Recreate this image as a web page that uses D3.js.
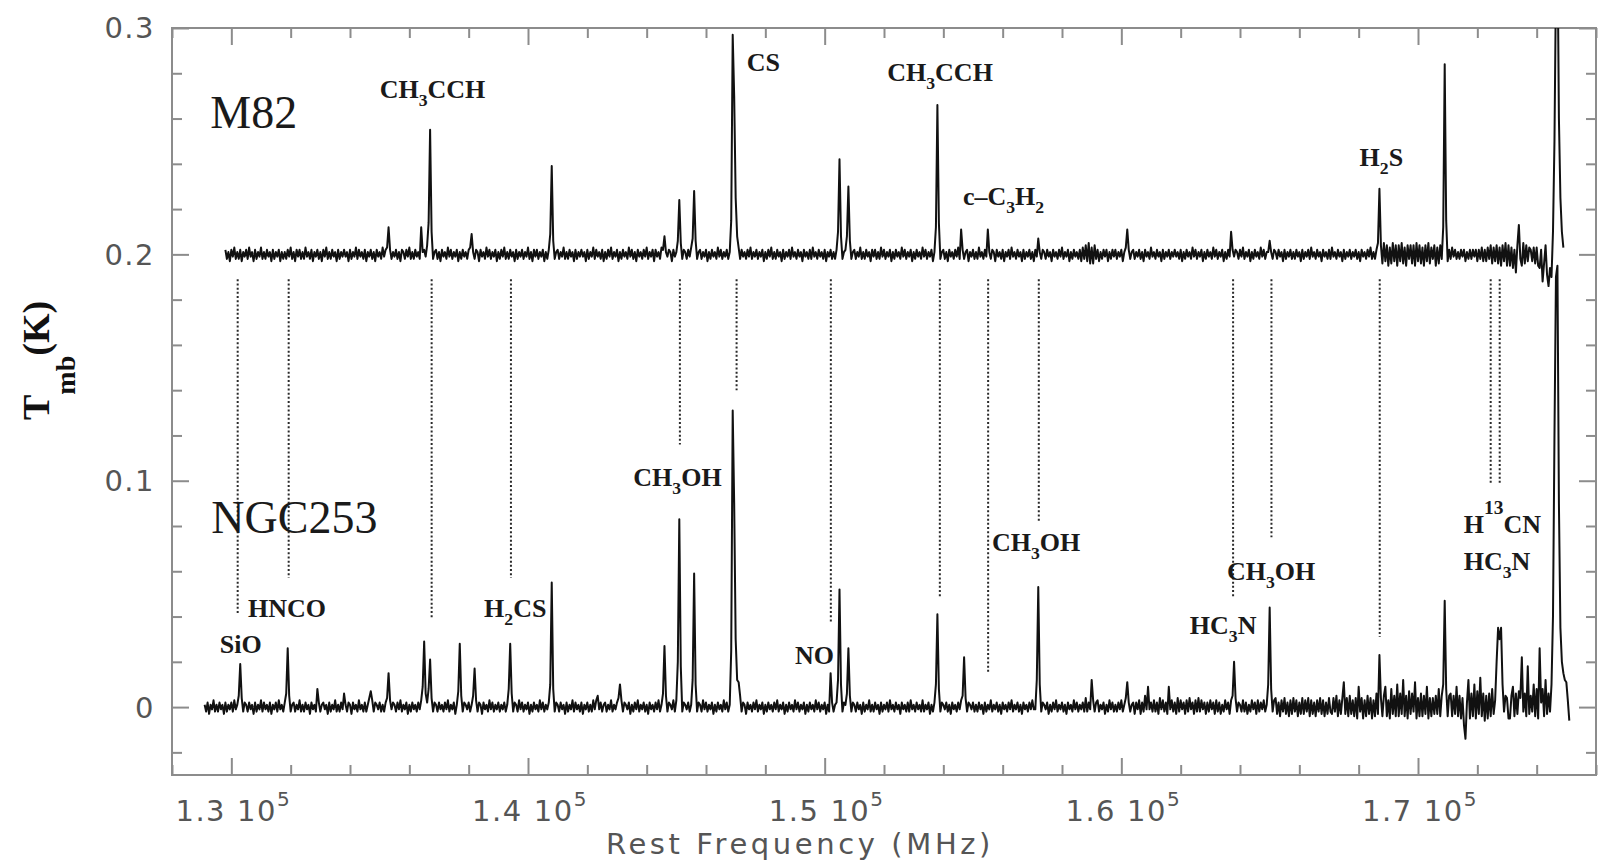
<!DOCTYPE html>
<html><head><meta charset="utf-8">
<script src="https://cdn.jsdelivr.net/npm/d3@7"></script>
<style>body{margin:0;background:#fff;overflow:hidden}</style>
</head><body>
<svg id="chart" width="1612" height="860"></svg>
<script>
// ================= DATA =================
// Spectra on a 50 MHz channel grid, values in mK
const channelWidth = 50;           // MHz
const m82Start = 129800;           // MHz, first channel of M82
const ngc253Start = 129100;        // MHz, first channel of NGC253
const m82Offset = 0.2;             // K, M82 spectrum is shifted up by 0.2 K

const m82mK = [
  2,-2,1,-3,2,-1,3,-2,1,-2, 2,-3,1,-1,2,-2,3,-1,1,-3, 2,-2,1,-1,3,-2,1,-2,2,-1, 1,-3,2,-2,1,-1,2,-3,1,-2,
  1,-2,2,-1,3,-2,1,-3,2,-1, 2,-2,1,-2,3,-1,1,-2,2,-3, 1,-1,2,-2,1,-3,2,-1,3,-2, 1,-2,2,-1,1,-3,2,-2,1,-1,
  2,-1,1,-3,2,-2,1,-1,3,-2, 2,-1,1,-2,2,-3,1,-1,2,-2, 1,-3,2,-1,1,-2,3,-1,2,3, 12,2,-2,1,-1,2,-2,1,-3,2,
  1,-2,2,-1,3,-2,1,-2,2,-1, 1,-2,12,1,2,-1,4,14,55,10, -2,1,2,-2,1,-3,2,-1,1,-2, 3,-1,2,-2,1,-1,2,-3,1,-2,
  2,-1,1,-2,2,3,9,1,-2,2, 1,-3,2,-1,1,-2,3,-1,2,-2, 1,-1,2,-3,1,-2,2,-1,3,-2, 1,-2,2,-1,1,-3,2,-2,1,-1,
  2,-2,1,-1,3,-2,1,-3,2,-1, 2,-2,1,-1,2,-3,1,-2,2,9, 39,6,-2,1,2,-2,1,-1,3,-2, 1,-2,2,-1,1,-3,2,-2,1,-1,
  2,-1,1,-3,2,-2,1,-1,3,-2, 2,-1,1,-2,2,-3,1,-2,2,-1, 3,-2,1,-1,2,-3,1,-2,2,-1, 1,-2,3,-1,2,-2,1,-3,2,-1,
  1,-2,2,-1,3,-2,1,-1,2,-3, 2,-1,1,-2,3,2,8,1,-1,2, 1,-3,2,-1,1,6,24,5,-2,2, 1,-2,2,-1,3,7,28,6,-2,1,
  2,-2,1,-1,2,-3,1,-2,2,-1, 1,-2,3,-1,2,-2,1,-1,2,-2, 1,15,97,70,25,8,3,-2,2,-1, 1,-2,2,-1,3,-2,1,-1,2,-2,
  1,-1,2,-3,1,-2,2,-1,3,-2, 1,-2,2,-1,1,-3,2,-2,1,-1, 2,-2,3,-1,1,-2,2,-1,1,-3, 2,-1,1,-2,2,-2,3,-1,1,-2,
  2,-1,1,-2,2,-3,1,-1,2,-2, 1,-2,2,10,42,8,-2,1,2,8, 30,6,-2,1,2,-2,1,-1,3,-2, 1,-2,2,-1,1,-3,2,-1,2,-2,
  1,-2,3,-1,2,-2,1,-1,2,-3, 1,-2,2,-1,1,-2,3,-1,2,-2, 1,-1,2,-3,1,-2,2,-1,1,-2, 3,-1,2,-2,1,-1,2,-3,1,12,
  66,14,-2,1,2,-2,1,-3,2,-1, 1,-2,2,-1,3,-2,11,2,-2,1, 2,-3,1,-1,2,-2,1,-2,3,-1, 1,-2,2,-1,11,1,-2,2,1,-3,
  2,-1,1,-2,2,-3,1,-1,2,-2, 3,-1,1,-2,2,-1,1,-3,2,-2, 1,-1,2,-2,1,-3,2,-1,7,1, -2,2,1,-2,2,-1,1,-3,2,-1,
  1,-2,2,-1,3,-2,1,-1,2,-3, 1,-2,2,-1,1,-2,2,-3,3,-2, 4,-3,5,-4,3,-4,4,-2,2,-3, 1,-2,2,-1,2,-3,1,-2,2,-1,
  2,-2,1,-1,2,-3,1,3,11,2, -2,1,2,-2,1,-1,2,-2,1,-3, 2,-1,1,-2,3,-1,1,-2,2,-1, 1,-3,2,-2,1,-1,2,-2,1,-1,
  2,-1,1,-2,2,-3,1,-2,2,-1, 1,-2,3,-1,2,-2,1,-1,2,-3, 1,-2,2,-1,1,-2,3,-1,2,-2, 1,-1,2,-3,1,-2,2,-1,10,2,
  -1,2,1,-2,2,-1,3,-2,1,-1, 2,-3,1,-2,2,-1,1,-2,3,-1, 2,-2,1,1,6,1,-2,2,1,-2, 2,-1,1,-3,2,-2,1,-1,2,-2,
  1,-2,2,-1,1,-3,2,-2,1,-1, 2,-2,3,-1,1,-2,2,-1,1,-3, 2,-1,1,-2,2,-2,3,-1,1,-2, 2,-1,1,-3,2,-2,1,-1,2,-2,
  1,-1,2,-2,1,-3,2,-1,1,-2, 2,-1,3,-2,1,-2,2,5,29,4, -4,5,-3,4,-5,3,-4,5,-3,4, -5,4,-3,5,-4,3,-5,4,-2,4,
  -4,4,-5,5,-3,4,-4,3,-5,4, -3,5,-4,3,-2,4,-5,3,-4,4, -2,12,84,15,-3,2,-2,3,-1,2, -2,1,-2,2,-1,2,-3,1,-2,2,
  -2,2,-1,2,-3,2,-2,3,-3,2, -3,3,-2,4,-4,3,-3,4,-4,3, -5,4,-3,5,-5,4,-5,3,-6,2, -8,4,13,-2,-5,5,-4,4,-3,3,
  2,-3,3,-4,3,-5,-6,2,-12,-4, 4,-9,-14,-6,-10,10,50,120,140,60, 25,10,3
];

const ngc253mK = [
  1,-2,2,-3,1,-1,3,-2,1,-2, 2,-1,1,-3,2,-2,1,-1,2,-2, 3,-1,1,5,19,4,-2,2,1,-2, 2,-1,1,-3,2,-2,1,-1,3,-2,
  2,-1,1,-2,2,-3,1,-1,2,-2, 3,-1,1,-2,2,6,26,5,-2,1, 2,-2,1,-1,3,-2,1,-2,2,-1, 1,-3,2,-1,1,-2,8,2,-2,1,
  2,-1,1,-3,2,-2,1,-1,3,-2, 1,-2,2,-1,6,1,-2,2,1,-3, 2,-1,1,-2,3,-1,1,-2,2,-2, 1,4,7,3,-2,2,1,-1,2,-2,
  1,-2,2,4,15,3,-1,2,1,-2, 2,-1,3,-2,1,-1,2,-3,1,-2, 2,-1,1,-2,2,-1,3,9,29,6, 2,8,21,4,-2,2,1,-2,2,-1,
  1,-2,2,-1,3,-2,1,-1,2,-3, 1,7,28,5,-2,2,1,-1,2,-2, 1,5,17,3,-2,2,1,-3,2,-1, 1,-2,3,-1,2,-2,1,-1,2,-2,
  1,-1,2,-2,1,8,28,6,-2,2, 1,-2,3,-1,2,-2,1,-1,2,-3, 1,-2,2,-1,1,-2,3,-1,2,-2, 1,-1,2,10,55,8,-2,2,1,-2,
  2,-1,1,-3,2,-2,1,-1,3,-2, 2,-1,1,-2,2,-3,1,-1,2,-2, 1,-2,3,-1,3,5,-1,2,-2,1, 2,-2,1,-1,3,-2,1,-1,2,4,
  10,3,-2,2,1,-1,2,-3,1,-2, 2,-1,3,-2,1,-1,2,-2,1,-3, 2,-1,1,-2,2,-1,3,-2,1,6, 27,5,-2,2,1,-1,3,-2,3,20,
  83,18,-2,2,1,-1,2,-2,1,12, 59,10,-2,2,1,-2,3,-1,2,-2, 1,-1,2,-3,1,-2,2,-1,1,-2, 3,-1,2,-2,1,25,131,90,30,12,
  11,5,-2,2,1,-3,2,-1,1,-2, 2,-1,3,-2,1,-1,2,-3,1,-2, 2,-1,1,-2,2,-1,3,-2,1,-1, 2,-3,1,-2,2,-1,1,-2,3,-1,
  2,-2,1,-1,2,-3,1,-2,2,-1, 1,-2,3,-1,2,-2,1,-1,2,-3, 1,-2,15,2,-2,1,2,12,52,10, -2,2,1,6,26,5,-2,2,1,-2,
  2,-1,1,-3,2,-2,1,-1,3,-2, 1,-2,2,-1,1,-3,2,-2,1,-1, 2,-2,3,-1,1,-2,2,-1,1,-3, 2,-1,1,-2,2,-2,3,-1,1,-2,
  2,-1,1,-2,3,-2,1,-1,2,-3, 1,-2,2,10,41,8,-2,2,1,-1, 2,-2,1,-3,2,-1,1,-2,2,-1, 3,5,22,4,-2,2,1,-1,2,-2,
  1,-2,2,-1,1,-3,2,-2,1,-1, 3,-2,1,-1,2,-2,1,-3,2,-1, 1,-2,2,-1,3,-2,1,-1,2,-2, 1,-3,2,-1,1,-2,2,-1,3,-1,
  -1,12,53,10,-2,2,1,-1,2,-3, 1,-2,2,-1,3,-2,1,-1,2,-2, 1,-3,2,-1,1,-2,3,-1,2,-2, 1,-1,2,-2,4,-2,2,-1,12,3,
  -2,2,3,-2,1,-1,2,-3,1,-2, 3,-1,2,-2,1,-2,2,-1,3,-2, 1,4,11,2,-2,1,2,-3,2,-1, 3,-3,2,-2,5,-1,9,-1,2,-2,
  3,-2,2,-3,4,-1,3,-2,2,-3, 9,-1,3,-2,2,-3,4,-2,3,-1, 2,-3,3,-2,4,-1,2,-3,3,-2, 4,-2,3,-1,2,-3,2,-2,3,-1,
  2,-3,3,-2,2,-3,1,-2,3,-1, 2,-3,3,5,20,4,-2,2,1,-2, 3,-2,2,-3,1,-2,3,-1,2,-3, 3,-2,2,-1,3,-2,1,10,44,8,
  -2,3,4,-3,2,-4,3,-2,4,-3, 2,-4,3,-3,4,-2,3,-4,2,-3, 4,-3,3,-2,4,-4,3,-3,2,-4, 3,-2,4,-3,3,-4,2,-3,4,-2,
  -3,4,-2,5,-4,3,-3,4,11,-3, 4,-4,5,-3,3,-4,4,-5,9,-2, 4,-5,3,-4,5,-3,4,-5,3,-4, 6,-3,23,4,-4,5,9,-4,3,-5,
  8,-3,5,-4,10,-4,6,-3,12,-4, 5,-5,7,-3,6,-2,11,-5,4,-4, 6,-4,5,-3,9,-5,4,-4,4,-3, 5,-3,8,-4,5,10,47,8,-4,5,
  6,-4,5,-3,9,-4,5,-5,4,-8, -14,2,12,-5,6,-4,10,-5,7,-3, 13,-4,6,-6,5,-5,6,-4,8,-3, 3,20,35,30,35,10,-2,5,4,-5,
  -5,5,9,-4,6,-3,7,4,22,-2, 6,-4,18,-3,5,-2,10,-4,8,-5, 26,2,8,-4,12,-3,6,-2,10,40, 120,190,195,90,35,20,15,12,11,3, -6
];

// Axis ticks
const xMajorTicks = [130000, 140000, 150000, 160000, 170000];
const xTickMantissa = ["1.3", "1.4", "1.5", "1.6", "1.7"];
const xTickExponent = "5";
const yMajorTicks = [0, 0.1, 0.2, 0.3];
const yTickLabels = ["0", "0.1", "0.2", "0.3"];

// Dotted line-identification markers (MHz, K)
const markerFreqs = [130214,131933,136752,139425,145120,147031,150208,153882,155510,157218,163767,165060,168710,172450,172754];
const markerTop = 0.189;
const markerBottoms = [0.041,0.057,0.039,0.057,0.116,0.140,0.0375,0.049,0.0154,0.082,0.049,0.075,0.031,0.099,0.099];

// Molecule labels ( _n = subscript, ^n = superscript ), anchored at (MHz, K)
const labelNames = ["CH_3CCH","CS","CH_3CCH","c\u2013C_3H_2","H_2S","SiO","HNCO","H_2CS","CH_3OH","NO","CH_3OH","HC_3N","CH_3OH","H^13CN","HC_3N"];
const labelFreqs = [135000,147370,152110,154660,168030,129610,130560,138520,143550,149000,155640,162310,163560,171540,171540];
const labelTemps = [0.269,0.281,0.2766,0.2218,0.239,0.0239,0.0398,0.0398,0.0977,0.019,0.069,0.0323,0.0561,0.0769,0.0606];

const sourceNames = ["M82", "NGC253"];
const sourceFreqs = [129290, 129325];
const sourceTemps = [0.2558, 0.0769];

// ================= DRAWING =================
const svg = d3.select("#chart");
const x = d3.scaleLinear().domain([128000, 176000]).range([172, 1596]);
const y = d3.scaleLinear().domain([-0.03, 0.3]).range([775, 28]);
const axisColor = "#8c8c8c";
const tickFont = "'DejaVu Sans', sans-serif";
const serif = "'Liberation Serif', 'Times New Roman', serif";

const xMinor = d3.range(128000, 176001, 2000).filter(v => !xMajorTicks.includes(v));
const yMinor = d3.range(-2, 29, 2).map(v => v / 100).filter(v => !yMajorTicks.some(t => Math.abs(t - v) < 1e-9));

function styleTicks(g) {
  g.select(".domain").remove();
  g.selectAll(".tick line").attr("stroke", axisColor).attr("stroke-width", 2);
  g.selectAll(".tick text").remove();
}
const [x0, x1] = x.range();
const [yb, yt] = y.range();

// ticks (all pointing inward)
svg.append("g").attr("transform", `translate(0,${yb})`).call(d3.axisBottom(x).tickValues(xMinor).tickSize(-10)).call(styleTicks);
svg.append("g").attr("transform", `translate(0,${yb})`).call(d3.axisBottom(x).tickValues(xMajorTicks).tickSize(-17)).call(styleTicks);
svg.append("g").attr("transform", `translate(0,${yt})`).call(d3.axisTop(x).tickValues(xMinor).tickSize(-10)).call(styleTicks);
svg.append("g").attr("transform", `translate(0,${yt})`).call(d3.axisTop(x).tickValues(xMajorTicks).tickSize(-17)).call(styleTicks);
svg.append("g").attr("transform", `translate(${x0},0)`).call(d3.axisLeft(y).tickValues(yMinor).tickSize(-10)).call(styleTicks);
svg.append("g").attr("transform", `translate(${x0},0)`).call(d3.axisLeft(y).tickValues(yMajorTicks).tickSize(-17)).call(styleTicks);
svg.append("g").attr("transform", `translate(${x1},0)`).call(d3.axisRight(y).tickValues(yMinor).tickSize(-10)).call(styleTicks);
svg.append("g").attr("transform", `translate(${x1},0)`).call(d3.axisRight(y).tickValues(yMajorTicks).tickSize(-17)).call(styleTicks);

// frame
svg.append("rect").attr("x", x0).attr("y", yt).attr("width", x1 - x0).attr("height", yb - yt)
  .attr("fill", "none").attr("stroke", axisColor).attr("stroke-width", 2);

// x tick labels: "1.3 10^5"
xMajorTicks.forEach((v, i) => {
  const t = svg.append("text").attr("x", x(v) + 2).attr("y", yb + 46)
    .attr("text-anchor", "middle").attr("font-family", tickFont).attr("font-size", 29)
    .attr("letter-spacing", 1.5).attr("fill", "#555");
  t.append("tspan").text(xTickMantissa[i]);
  t.append("tspan").attr("dx", 11).text("10");
  t.append("tspan").attr("font-size", 20).attr("dy", -15).text(xTickExponent);
});
// y tick labels
yMajorTicks.forEach((v, i) => {
  svg.append("text").attr("x", 155).attr("y", y(v)).attr("dy", "0.36em")
    .attr("text-anchor", "end").attr("font-family", tickFont).attr("font-size", 29)
    .attr("letter-spacing", 1.5).attr("fill", "#555").text(yTickLabels[i]);
});

// axis titles
svg.append("text").attr("x", 800).attr("y", 854).attr("text-anchor", "middle")
  .attr("font-family", tickFont).attr("font-size", 29).attr("letter-spacing", 3.6).attr("fill", "#555")
  .text("Rest Frequency (MHz)");
const yt2 = svg.append("text").attr("transform", "translate(49,420) rotate(-90)")
  .attr("font-family", serif).attr("font-weight", "bold").attr("fill", "#111");
yt2.append("tspan").attr("font-size", 38).text("T");
yt2.append("tspan").attr("font-size", 28).attr("dy", 26).text("mb");
yt2.append("tspan").attr("font-size", 38).attr("dy", -26).text("(K)");

// clip
svg.append("clipPath").attr("id", "plotclip").append("rect")
  .attr("x", x0).attr("y", yt).attr("width", x1 - x0).attr("height", yb - yt);

// dotted markers
svg.append("g").selectAll("line").data(markerFreqs).join("line")
  .attr("x1", d => x(d)).attr("x2", d => x(d))
  .attr("y1", y(markerTop)).attr("y2", (d, i) => y(markerBottoms[i]))
  .attr("stroke", "#2a2a2a").attr("stroke-width", 2).attr("stroke-dasharray", "2,2.2");

// spectra
const specG = svg.append("g").attr("clip-path", "url(#plotclip)");
const lineM82 = d3.line().x((d, i) => x(m82Start + i * channelWidth)).y(d => y(d / 1000 + m82Offset));
const lineNGC = d3.line().x((d, i) => x(ngc253Start + i * channelWidth)).y(d => y(d / 1000));
specG.append("path").attr("d", lineNGC(ngc253mK)).attr("fill", "none").attr("stroke", "#111").attr("stroke-width", 2).attr("stroke-linejoin", "round");
specG.append("path").attr("d", lineM82(m82mK)).attr("fill", "none").attr("stroke", "#111").attr("stroke-width", 2).attr("stroke-linejoin", "round");

// rich text labels
function richText(sel, str, size) {
  const re = /([_^])(\d+)|([^_^]+)/g;
  let m, cur = 0;
  while ((m = re.exec(str))) {
    if (m[3]) {
      sel.append("tspan").attr("font-size", size).attr("dy", -cur).text(m[3]);
      cur = 0;
    } else {
      const target = m[1] === "_" ? size * 0.3 : -size * 0.75;
      sel.append("tspan").attr("font-size", size * (m[1] === "_" ? 0.68 : 0.75)).attr("dy", target - cur).text(m[2]);
      cur = target;
    }
  }
}
labelNames.forEach((name, i) => {
  const t = svg.append("text").attr("x", x(labelFreqs[i])).attr("y", y(labelTemps[i]))
    .attr("font-family", serif).attr("font-weight", "bold").attr("fill", "#1a1a1a");
  richText(t, name, 26);
});
sourceNames.forEach((name, i) => {
  svg.append("text").attr("x", x(sourceFreqs[i])).attr("y", y(sourceTemps[i]))
    .attr("font-family", serif).attr("font-size", 46).attr("fill", "#1a1a1a").text(name);
});
</script>
</body></html>
